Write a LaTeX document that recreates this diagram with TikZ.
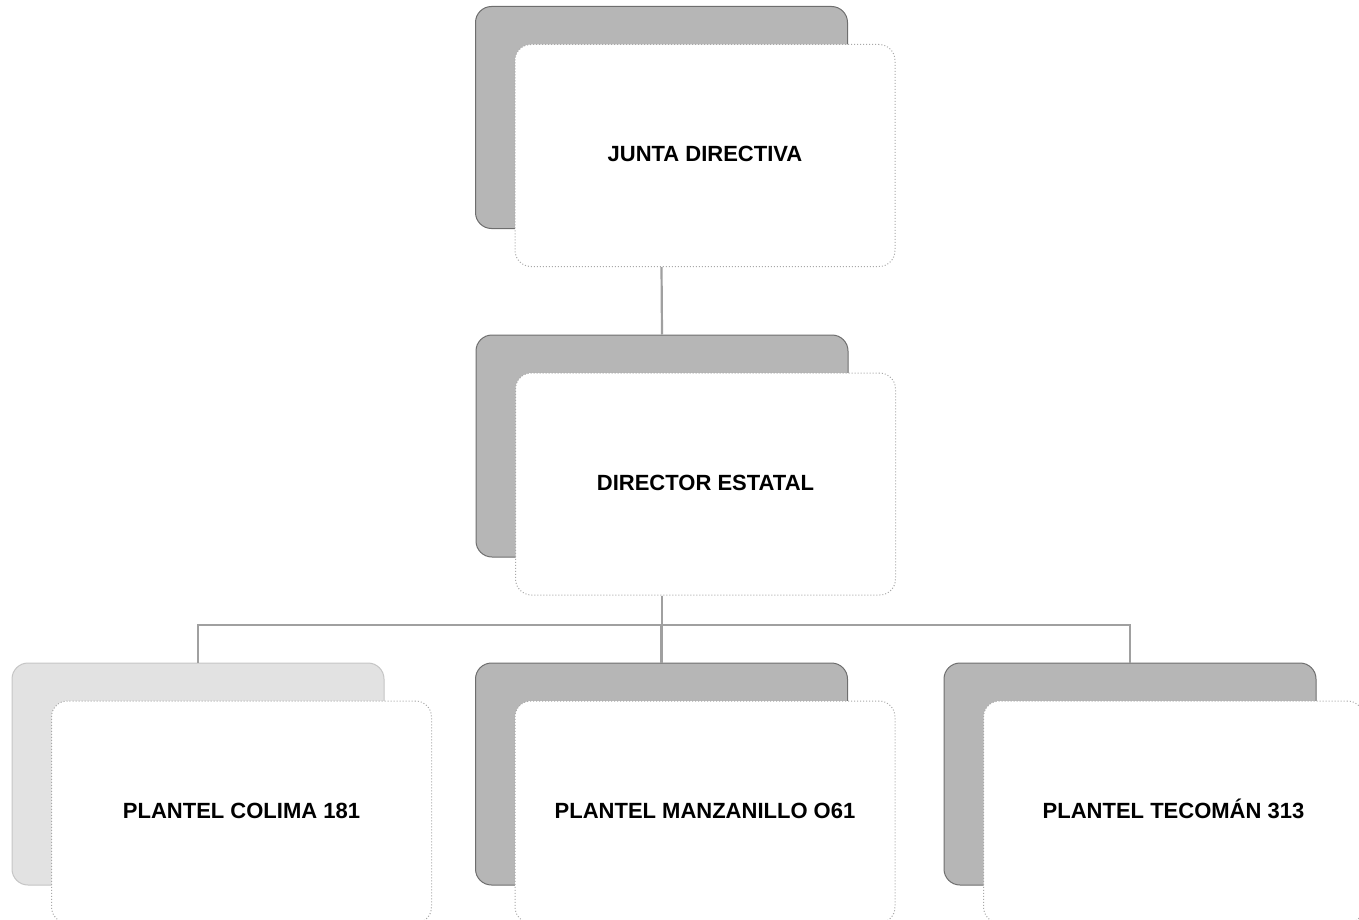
\documentclass[tikz,border=0pt]{standalone}
\usepackage{fontspec}
\setmainfont{Liberation Sans}
\usetikzlibrary{positioning,calc}
\definecolor{boxshade}{RGB}{182,182,182}
\definecolor{boxedge}{RGB}{110,110,110}
\definecolor{linkcolor}{RGB}{160,160,160}
\tikzstyle{backbox}=[rounded corners=8pt, fill=boxshade, draw=boxedge, line width=0.5pt, minimum width=186pt, minimum height=111pt, inner sep=0pt]
\tikzstyle{frontbox}=[rounded corners=8pt, fill=white, draw=boxedge!60, densely dotted, line width=0.5pt, minimum width=190pt, minimum height=111pt, inner sep=0pt, text height=8pt, text depth=2pt, font=\fontsize{11}{13}\selectfont\bfseries]
\tikzstyle{link}=[draw=linkcolor, line width=1.1pt]

\begin{document}
\begin{tikzpicture}[x=0.5pt, y=-0.5pt]
\def\frontdx{43.5}
\def\frontdy{38}
\def\rowy{774}
\clip (0,0) rectangle (1359,920);
\useasboundingbox (0,0) rectangle (1359,920);

	% Top
    \node[backbox] (juntaB) at (661.5,117.5) {};
    \node[frontbox] (junta) at ($(juntaB)+(\frontdx,\frontdy)$) {JUNTA DIRECTIVA};

	% Middle
    \node[backbox] (directorB) at (662,446) {};
    \node[frontbox] (director) at ($(directorB)+(\frontdx,\frontdy)$) {DIRECTOR ESTATAL};

	% Planteles
    \foreach \i/\x/\name/\tone in {1/198/PLANTEL COLIMA 181/40, 2/661.5/PLANTEL MANZANILLO O61/100, 3/1130/PLANTEL TECOMÁN 313/100}
    {
        \node[backbox, fill=boxshade!\tone, draw=boxedge!\tone] (plantelB-\i) at (\x,\rowy) {};
        \node[frontbox] (plantel-\i) at ($(plantelB-\i)+(\frontdx,\frontdy)$) {\name};
    }

	% Links
    \coordinate (bar) at (0,625);
    \draw[link] (junta.south -| juntaB.south) -- (directorB.north);
    \foreach \i in {1,...,3}
        \draw[link] (director.south -| directorB.south) -- (directorB.south |- bar) -| (plantelB-\i.north);

\end{tikzpicture}
\end{document}
